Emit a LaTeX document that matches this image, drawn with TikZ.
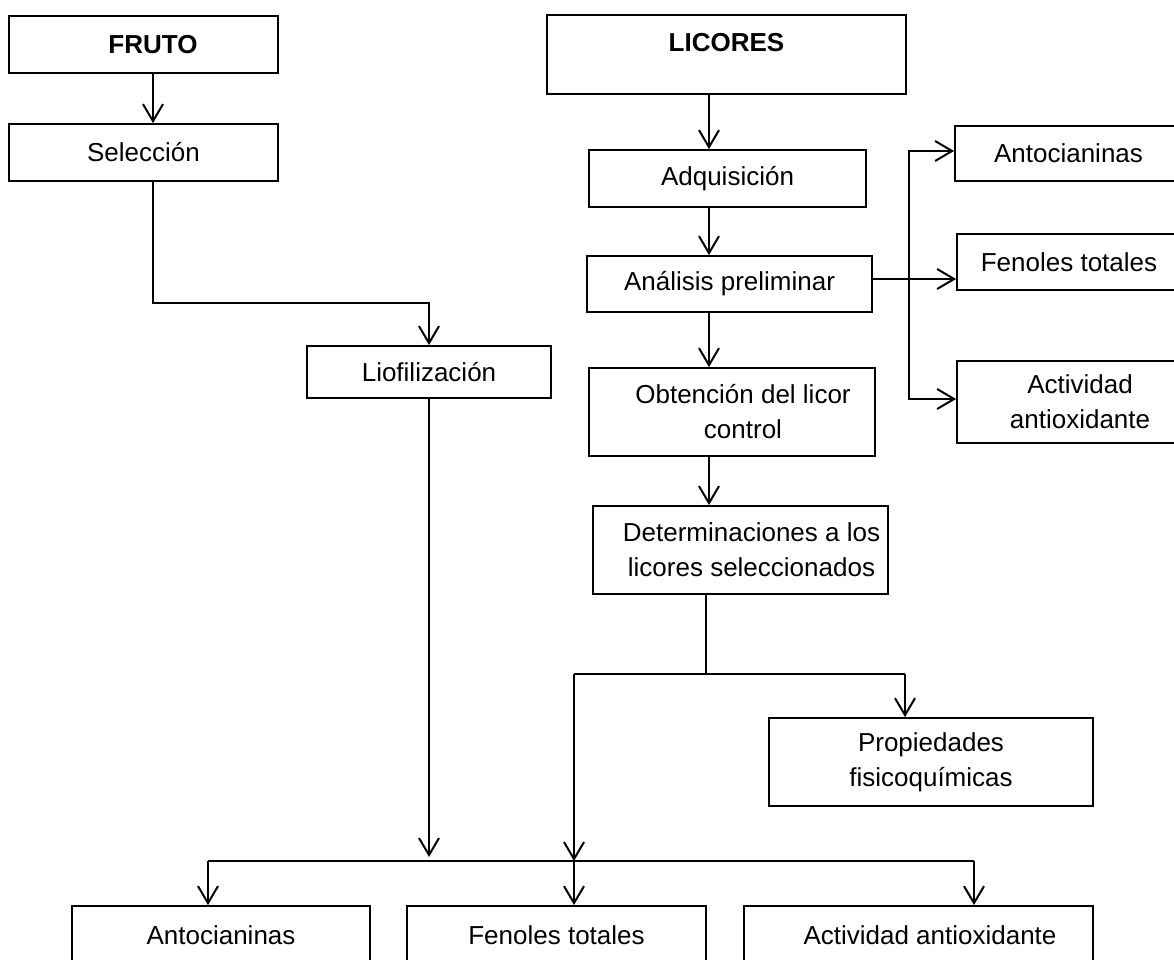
\documentclass[tikz,border=0pt]{standalone}
\usepackage{fontspec}
\setmainfont{Liberation Sans}
\usetikzlibrary{arrows.meta}

\begin{document}
\begin{tikzpicture}[x=1pt, y=-1pt, >={Straight Barb[length=17pt, width=20pt]}]
        \tikzstyle{caja}=[draw, rectangle, line width=1.8pt, inner sep=0pt, align=center, font=\fontsize{26}{35}\selectfont];
        \tikzstyle{flecha}=[->, line width=2pt];

        \useasboundingbox (0,0) rectangle (1174,960);
        \clip (0,0) rectangle (1174,960);

        % fruto
        \node[caja, minimum width=269pt, minimum height=57pt] (fruto) at (143.5,44.5) {\hspace*{19pt}\textbf{FRUTO}};
        \node[caja, minimum width=269pt, minimum height=57pt] (seleccion) at (143.5,152.5) {Selección};
        \node[caja, minimum width=244pt, minimum height=52pt] (liofilizacion) at (429,372) {Liofilización};

        % licores
        \node[caja, minimum width=359pt, minimum height=79pt, text depth=25pt] (licores) at (726.5,54.5) {\textbf{LICORES}};
        \node[caja, minimum width=277pt, minimum height=57pt] (adquisicion) at (727.5,178.5) {Adquisición};
        \node[caja, minimum width=285pt, minimum height=56pt] (analisis) at (729.5,284) {Análisis preliminar};
        \node[caja, minimum width=286pt, minimum height=88pt] (obtencion) at (732,412) {\hspace*{22pt}Obtención del licor\\\hspace*{22pt}control};
        \node[caja, minimum width=295pt, minimum height=88pt] (determinaciones) at (740.5,550) {\hspace*{22pt}Determinaciones a los\\\hspace*{22pt}licores seleccionados};
        \node[caja, minimum width=324pt, minimum height=88pt] (propiedades) at (931,762) {Propiedades\\fisicoquímicas};

        % analisis preliminar
        \node[caja, minimum width=227pt, minimum height=55pt] (antoR) at (1068.5,153.5) {Antocianinas};
        \node[caja, minimum width=224pt, minimum height=56pt] (fenolR) at (1069,262) {Fenoles totales};
        \node[caja, minimum width=246pt, minimum height=82pt] (actR) at (1080,402) {Actividad\\antioxidante};

        % determinaciones finales
        \node[caja, minimum width=298pt, minimum height=58pt] (antoB) at (221,935) {Antocianinas};
        \node[caja, minimum width=299pt, minimum height=58pt] (fenolB) at (556.5,935) {Fenoles totales};
        \node[caja, minimum width=349pt, minimum height=58pt] (actB) at (918.5,935) {\hspace*{23pt}Actividad antioxidante};

        \coordinate (ejeF) at (153,0);
        \coordinate (ejeL) at (709,0);
        \coordinate (bifT) at (909,151);
        \coordinate (bifM) at (909,279);
        \coordinate (bifB) at (909,399);
        \coordinate (ramaM) at (706,674);
        \coordinate (ramaI) at (574,674);
        \coordinate (ramaD) at (905,674);
        \coordinate (barra) at (208,861);
        \coordinate (barraFin) at (974,861);
        \coordinate (tope) at (0,857);

        \draw[flecha] (fruto.south -| ejeF) -- (seleccion.north -| ejeF);
        \draw[flecha] (seleccion.south -| ejeF) -- ++(0,121) -| (liofilizacion.north);
        \draw[flecha] (liofilizacion.south) -- (liofilizacion.south |- tope);

        \draw[flecha] (licores.south -| ejeL) -- (adquisicion.north -| ejeL);
        \draw[flecha] (adquisicion.south -| ejeL) -- (analisis.north -| ejeL);
        \draw[flecha] (analisis.south -| ejeL) -- (obtencion.north -| ejeL);
        \draw[flecha] (obtencion.south -| ejeL) -- (determinaciones.north -| ejeL);

        \draw[flecha] (analisis.east |- bifM) -- (fenolR.west |- bifM);
        \draw[flecha] (bifM) |- (antoR.west |- bifT);
        \draw[flecha] (bifM) |- (actR.west |- bifB);

        \draw[line width=2pt] (determinaciones.south -| ramaM) -- (ramaM);
        \draw[line width=2pt] (ramaI) -- (ramaD);
        \draw[flecha] (ramaD) -- (propiedades.north -| ramaD);
        \draw[flecha] (ramaI) -- (ramaI |- barra);

        \draw[line width=2pt] (barra) -- (barraFin);
        \draw[flecha] (barra) -- (antoB.north -| barra);
        \draw[flecha] (ramaI |- barra) -- (fenolB.north -| ramaI);
        \draw[flecha] (barraFin) -- (actB.north -| barraFin);
    \end{tikzpicture}
\end{document}
